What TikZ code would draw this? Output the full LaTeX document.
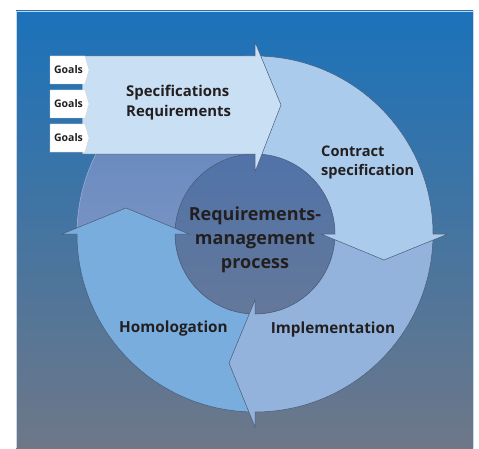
\documentclass[tikz,border=0pt]{standalone}
\usepackage{fontspec}
\setmainfont{Open Sans}
\definecolor{bgtop}{HTML}{1B72BA}
\definecolor{bgmid}{HTML}{5377A9}
\definecolor{bgbot}{HTML}{6E7788}
\definecolor{bgedge}{HTML}{C9D6E6}
\definecolor{topc}{HTML}{C9E0F4}
\definecolor{conc}{HTML}{AACBEB}
\definecolor{impc}{HTML}{93B3DD}
\definecolor{homc}{HTML}{79ADDD}
\definecolor{ultop}{HTML}{5A80B8}
\definecolor{ulbot}{HTML}{7893C4}
\definecolor{ulline}{HTML}{9CB4DA}
\definecolor{intop}{HTML}{5073A9}
\definecolor{inbot}{HTML}{647899}
\definecolor{edgec}{HTML}{4A5A78}
\definecolor{txtc}{HTML}{231F20}
\begin{document}
\begin{tikzpicture}[x=1pt,y=1pt,
  outl/.style={draw=edgec, line width=0.5pt, line join=miter},
  goalbox/.style={fill=white, draw=white!80!black, line width=0.3pt},
  goaltxt/.style={font=\bfseries\fontsize{10.5}{13}\selectfont, text=txtc, inner sep=0pt},
  lbl/.style={font=\bfseries\fontsize{15.3}{18.5}\selectfont, text=txtc, inner sep=0pt},
  biglbl/.style={font=\bfseries\fontsize{18}{24}\selectfont, text=txtc, inner sep=0pt, align=center},
]
\useasboundingbox (0,0) rectangle (479,448);
% background
\shade[top color=bgtop, middle color=bgmid, bottom color=bgbot] (16,0) rectangle (473,437);
\draw[bgedge, line width=0.8pt] (16,0) -- (16,437) -- (473,437) -- (473,0);
\coordinate (C) at (255,214);
% upper-left faded quadrant
\shade[top color=ultop, bottom color=ulbot] (77,214) arc[start angle=180, end angle=90, radius=178] -- (255,294) arc[start angle=90, end angle=180, radius=80] -- cycle;
\draw[ulline, line width=0.5pt] (77,214) arc[start angle=180, end angle=90, radius=178];
% inner circle
\shade[top color=intop, bottom color=inbot] (C) circle[radius=80];
\draw[outl] (C) circle[radius=80];
% homologation
\filldraw[outl, fill=homc] (255,36) arc[start angle=-90, end angle=-180, radius=178] -- (62,214) -- (126,240) -- (189,214) -- (175,214) arc[start angle=180, end angle=270, radius=80] -- cycle;
% implementation
\filldraw[outl, fill=impc] (433,214) arc[start angle=0, end angle=-90, radius=178] -- (255,21) -- (229,85) -- (255,148) -- (255,134) arc[start angle=-90, end angle=0, radius=80] -- cycle;
% contract specification
\filldraw[outl, fill=conc] (255,392) arc[start angle=90, end angle=0, radius=178] -- (448,214) -- (384,188) -- (321,214) -- (335,214) arc[start angle=0, end angle=90, radius=80] -- cycle;
% top arrow
\filldraw[outl, fill=topc] (82,392) -- (255,392) -- (255,406) -- (281,343) -- (255,276) -- (255,294) -- (82,294) -- cycle;
% goals
\foreach \t/\n in {392/1,358/2,324/3}{
  \filldraw[goalbox] (50,\t) -- (85,\t) -- (89,\t-14) -- (85,\t-28) -- (50,\t-28) -- cycle;
  \node[goaltxt] (goal\n) at (68.5,\t-14) {Goals};
}
% labels
\node[lbl, align=left, anchor=west, font=\bfseries\fontsize{14.9}{20}\selectfont] (specreq) at (126,345) {Specifications\\Requirements};
\node[lbl, align=left, anchor=west, font=\bfseries\fontsize{14.6}{18.5}\selectfont] (contract) at (321,285.5) {Contract\\specification};
\node[biglbl] (rmp) at (255,208) {Requirements-\\management\\process};
\node[lbl] (homol) at (173.5,119) {Homologation};
\node[lbl] (impl) at (333,118) {Implementation};
\end{tikzpicture}
\end{document}
